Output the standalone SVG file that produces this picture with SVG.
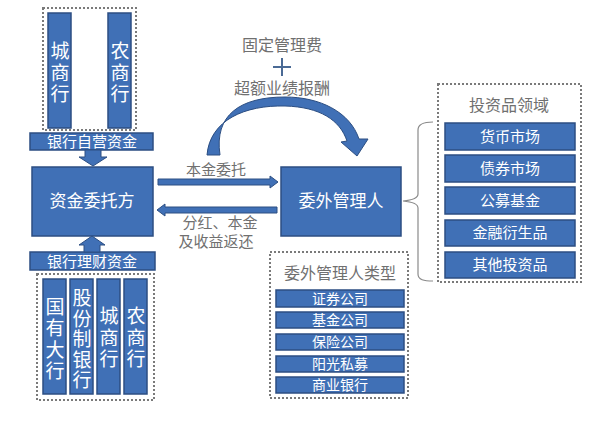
<svg xmlns="http://www.w3.org/2000/svg" width="593" height="421" viewBox="0 0 593 421">
<style>
.b{fill:#4070b6;stroke:#2c4e82;stroke-width:1.5}
.w{fill:#ffffff;font-family:"Noto Sans CJK SC","Noto Sans",sans-serif;text-anchor:middle}
.v{fill:#ffffff;font-family:"Noto Sans CJK SC","Noto Sans",sans-serif;text-anchor:middle;writing-mode:vertical-rl;font-size:19px;letter-spacing:2.5px}
.g{fill:#707070;font-family:"Noto Sans CJK SC","Noto Sans",sans-serif;text-anchor:middle}
.d{fill:none;stroke:#7a7a7a;stroke-width:2;stroke-dasharray:2 2}
.ar{fill:#4070b6;stroke:#2c4e82;stroke-width:1}
</style>
<rect width="593" height="421" fill="#ffffff"/>

<g id="top-banks">
<rect class="d" x="43" y="8" width="93" height="122"/>
<rect class="b" x="48" y="13" width="23" height="115"/>
<rect class="b" x="108" y="13" width="23" height="115"/>
<text class="v" x="60" y="74">城商行</text>
<text class="v" x="120" y="74">农商行</text>
</g>

<g id="bank-own-fund">
<rect class="b" x="30" y="133" width="123" height="17"/>
<text class="w" font-size="15" x="92" y="147">银行自营资金</text>
</g>

<g id="principal">
<rect class="b" x="32" y="167" width="121" height="69"/>
<text class="w" font-size="17" x="92" y="207">资金委托方</text>
</g>

<g id="bank-wm-fund">
<rect class="b" x="30" y="252" width="125" height="18"/>
<text class="w" font-size="15" x="92" y="267">银行理财资金</text>
</g>

<g id="bottom-banks">
<rect class="d" x="37" y="274" width="117" height="126"/>
<rect class="b" x="43" y="279" width="23" height="115"/>
<rect class="b" x="70" y="279" width="23" height="115"/>
<rect class="b" x="97" y="279" width="23" height="115"/>
<rect class="b" x="124" y="279" width="23" height="115"/>
<text class="v" x="55" y="340">国有大行</text>
<text class="v" x="82" y="340" style="letter-spacing:1.5px">股份制银行</text>
<text class="v" x="109" y="339">城商行</text>
<text class="v" x="136" y="339">农商行</text>
</g>

<g id="manager">
<rect class="b" x="281" y="167" width="120" height="69"/>
<text class="w" font-size="17" x="341" y="207">委外管理人</text>
</g>

<g id="manager-types">
<rect class="d" x="270" y="252" width="138" height="146"/>
<text class="g" font-size="16" x="340" y="279">委外管理人类型</text>
<rect class="b" x="276" y="290" width="128" height="17"/>
<rect class="b" x="276" y="312" width="128" height="16"/>
<rect class="b" x="276" y="334" width="128" height="16"/>
<rect class="b" x="276" y="356" width="128" height="16"/>
<rect class="b" x="276" y="377" width="128" height="16"/>
<text class="w" font-size="14" x="340" y="304">证券公司</text>
<text class="w" font-size="14" x="340" y="325">基金公司</text>
<text class="w" font-size="14" x="340" y="347">保险公司</text>
<text class="w" font-size="14" x="340" y="369">阳光私募</text>
<text class="w" font-size="14" x="340" y="390">商业银行</text>
</g>

<g id="investment-areas">
<rect class="d" x="438" y="84" width="143" height="198"/>
<text class="g" font-size="16" x="509" y="111">投资品领域</text>
<rect class="b" x="445" y="123" width="130" height="27"/>
<rect class="b" x="445" y="155" width="130" height="27"/>
<rect class="b" x="445" y="187" width="130" height="27"/>
<rect class="b" x="445" y="220" width="130" height="26"/>
<rect class="b" x="445" y="252" width="130" height="26"/>
<text class="w" font-size="15" x="510" y="142">货币市场</text>
<text class="w" font-size="15" x="510" y="174">债券市场</text>
<text class="w" font-size="15" x="510" y="206">公募基金</text>
<text class="w" font-size="15" x="510" y="238">金融衍生品</text>
<text class="w" font-size="15" x="510" y="270">其他投资品</text>
</g>

<g id="fee-label">
<text class="g" font-size="16" x="282" y="51">固定管理费</text>
<path d="M282 58 V76 M273 67 H291" stroke="#4a6a95" stroke-width="2" fill="none"/>
<text class="g" font-size="16" x="282" y="94">超额业绩报酬</text>
</g>

<g id="connectors">
<path class="ar" d="M85 150 H101 V157 H107 L93 166 L79 157 H85 Z"/>
<path class="ar" d="M84 252 V245 H79 L92 236 L105 245 H100 V252 Z"/>
<path class="ar" d="M158 179 H270 V176 L278 182 L270 188 V185 H158 Z"/>
<text class="g" font-size="15" x="216" y="175">本金委托</text>
<path class="ar" d="M277 207 H165 V204 L157 210 L165 216 V213 H277 Z"/>
<text class="g" font-size="15" x="220" y="228">分红、本金</text>
<text class="g" font-size="15" x="216" y="247">及收益返还</text>
<path class="ar" d="M207 155 C210 120 245 105 285 106 C320 107 340 120 347 141 L341 142 L357 156 L368 139 L359 139 C350 112 320 97 285 97 C240 97 214 115 220 155 Z"/>
<path d="M433 122 C424 122 418 124 418 130 V194 C418 198 414 200 403 201 C414 202 418 204 418 208 V274 C418 280 424 281 433 281" fill="none" stroke="#8a8a8a" stroke-width="1.2"/>
</g>
</svg>
